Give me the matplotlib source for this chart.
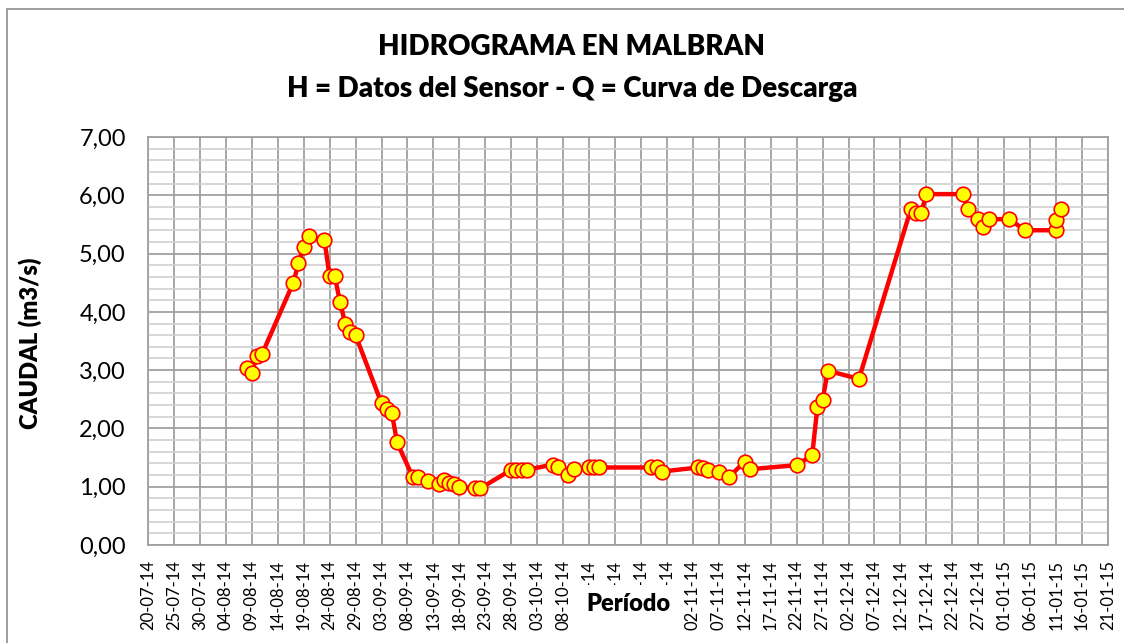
import numpy as np
import pandas as pd
import matplotlib
matplotlib.use('Agg')
import matplotlib.pyplot as plt
import matplotlib.dates as mdates
from matplotlib.ticker import MultipleLocator, FuncFormatter
from matplotlib.patches import Rectangle

plt.rcParams['font.family'] = ['Lato', 'DejaVu Sans']

fechas = ['2014-08-08', '2014-08-09', '2014-08-10', '2014-08-11', '2014-08-17',
          '2014-08-18', '2014-08-19', '2014-08-20', '2014-08-23', '2014-08-24',
          '2014-08-25', '2014-08-26', '2014-08-27', '2014-08-28', '2014-08-29',
          '2014-09-03', '2014-09-04', '2014-09-05', '2014-09-06', '2014-09-09',
          '2014-09-10', '2014-09-12', '2014-09-14', '2014-09-15', '2014-09-16',
          '2014-09-17', '2014-09-18', '2014-09-21', '2014-09-22', '2014-09-28',
          '2014-09-29', '2014-09-30', '2014-10-01', '2014-10-06', '2014-10-07',
          '2014-10-09', '2014-10-10', '2014-10-13', '2014-10-14', '2014-10-15',
          '2014-10-25', '2014-10-26', '2014-10-27', '2014-11-03', '2014-11-04',
          '2014-11-05', '2014-11-07', '2014-11-09', '2014-11-12', '2014-11-13',
          '2014-11-22', '2014-11-25', '2014-11-26', '2014-11-27', '2014-11-28',
          '2014-12-04', '2014-12-14', '2014-12-15', '2014-12-16', '2014-12-17',
          '2014-12-24', '2014-12-25', '2014-12-27', '2014-12-28', '2014-12-29',
          '2015-01-02', '2015-01-05', '2015-01-11', '2015-01-11', '2015-01-12']
caudal = [3.04, 2.95, 3.24, 3.28, 4.50,
          4.83, 5.12, 5.30, 5.23, 4.61,
          4.61, 4.17, 3.80, 3.65, 3.60,
          2.43, 2.34, 2.26, 1.76, 1.17,
          1.17, 1.09, 1.05, 1.11, 1.06,
          1.05, 1.00, 0.97, 0.97, 1.29,
          1.29, 1.29, 1.29, 1.38, 1.33,
          1.20, 1.30, 1.33, 1.33, 1.33,
          1.33, 1.33, 1.26, 1.33, 1.32,
          1.29, 1.26, 1.17, 1.43, 1.30,
          1.37, 1.54, 2.37, 2.48, 2.99,
          2.85, 5.76, 5.70, 5.70, 6.02,
          6.02, 5.76, 5.59, 5.46, 5.59,
          5.59, 5.40, 5.40, 5.57, 5.76]

df = pd.DataFrame({'fecha': pd.to_datetime(fechas), 'caudal': caudal})

W, H = 1124, 643
fig = plt.figure(figsize=(W / 100, H / 100), dpi=100)

# Borde exterior del grafico
fig.patches.append(Rectangle((7 / W, -0.05), 1.2, 1 - 9 / H + 0.05, transform=fig.transFigure,
                             fill=False, edgecolor='#8c8c8c', linewidth=1.2))

ax = fig.add_axes([148 / W, 1 - 545 / H, 960 / W, 408 / H])

ax.plot(df['fecha'], df['caudal'], color='#ff0000', linewidth=3.2, marker='o',
        markersize=10.5, markerfacecolor='#ffff00', markeredgecolor='#ff0000',
        markeredgewidth=1.2, zorder=3)

ax.set_xlim(pd.Timestamp('2014-07-20'), pd.Timestamp('2015-01-21'))
ax.set_ylim(0, 7)

ticks = pd.date_range('2014-07-20', '2015-01-21', freq='5D')
ax.set_xticks(ticks)
ax.xaxis.set_major_formatter(mdates.DateFormatter('%d-%m-%y'))
ax.yaxis.set_major_locator(MultipleLocator(1))
ax.yaxis.set_minor_locator(MultipleLocator(0.2))
ax.yaxis.set_major_formatter(FuncFormatter(lambda v, p: f'{v:.2f}'.replace('.', ',')))

ax.grid(True, which='major', axis='both', color='#a0a0a0', linewidth=1.3)
ax.grid(True, which='minor', axis='y', color='#cfcfcf', linewidth=1.2)
ax.set_axisbelow(True)

for s in ax.spines.values():
    s.set_color('#a0a0a0')
    s.set_linewidth(1.3)

ax.tick_params(axis='x', which='both', length=0, pad=11, labelsize=12, rotation=90)
ax.tick_params(axis='y', which='both', length=0, pad=16, labelsize=17)

# Titulos
fig.text(572 / W, 1 - 47 / H, 'HIDROGRAMA EN MALBRAN', ha='center', va='center',
         fontsize=20, fontweight='heavy')
fig.text(572 / W, 1 - 89 / H, 'H = Datos del Sensor - Q = Curva de Descarga', ha='center',
         va='center', fontsize=20, fontweight='heavy')

fig.text(30 / W, 1 - 343 / H, 'CAUDAL (m3/s)', rotation=90, ha='center', va='center',
         fontsize=17, fontweight='heavy')

# Recuadro blanco del titulo del eje X (tapa parte de las etiquetas, como en el original)
fig.patches.append(Rectangle((578 / W, 0), 106 / W, 1 - 585 / H, transform=fig.transFigure,
                             facecolor='white', edgecolor='none', zorder=5))
fig.text(628 / W, 1 - 604 / H, 'Período', ha='center', va='center', fontsize=17,
         fontweight='heavy', zorder=10)

fig.savefig('out.png', dpi=100)
